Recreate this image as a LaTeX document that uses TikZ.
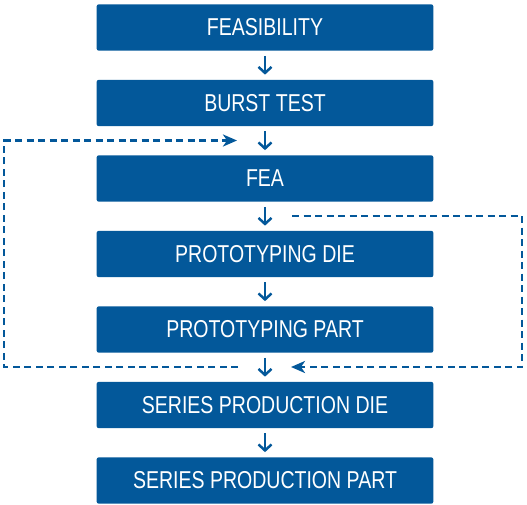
\documentclass[tikz,border=0pt]{standalone}
\usepackage{fontspec}
\setmainfont{Liberation Sans}[FakeStretch=0.8]
\usetikzlibrary{arrows.meta}
\definecolor{boxblue}{RGB}{3,88,154}
\tikzset{
  stepbox/.style={fill=boxblue, rounded corners=2pt, minimum width=336.6pt, minimum height=46.3pt, inner sep=0pt, text=white, font=\fontsize{24.4}{28}\selectfont},
  flow/.style={draw=boxblue, line width=2.5pt, -{Straight Barb[length=6pt,width=13pt,line width=2.5pt]}, shorten <=5pt, shorten >=5pt},
  loop/.style={draw=boxblue, line width=2.6pt, dash pattern=on 7pt off 4.5pt, -{Stealth[length=14pt,width=12pt,inset=4pt]}}
}
\begin{document}
\begin{tikzpicture}[x=1pt,y=-1pt]
\useasboundingbox (0,0) rectangle (527,504);
\node[stepbox] (a) at (265,27.5) {FEASIBILITY};
\node[stepbox] (b) at (265,103) {BURST TEST};
\node[stepbox] (c) at (265,178.5) {FEA};
\node[stepbox] (d) at (265,254) {PROTOTYPING DIE};
\node[stepbox] (e) at (265,329.5) {PROTOTYPING PART};
\node[stepbox] (f) at (265,405) {SERIES PRODUCTION DIE};
\node[stepbox] (g) at (265,480.5) {SERIES PRODUCTION PART};
\draw[flow] (a) -- (b);
\draw[flow] (b) -- (c);
\draw[flow] (c) -- (d);
\draw[flow] (d) -- (e);
\draw[flow] (e) -- (f);
\draw[flow] (f) -- (g);
\coordinate (l1) at (238,367);
\coordinate (l2) at (4,367);
\coordinate (l3) at (4,140.5);
\coordinate (l4) at (237,140.5);
\coordinate (r1) at (292,216);
\coordinate (r2) at (522,216);
\coordinate (r3) at (522,367);
\coordinate (r4) at (291,367);
\draw[loop] (l1) -- (l2) -- (l3) -- (l4);
\draw[loop] (r1) -- (r2) -- (r3) -- (r4);
\end{tikzpicture}
\end{document}
